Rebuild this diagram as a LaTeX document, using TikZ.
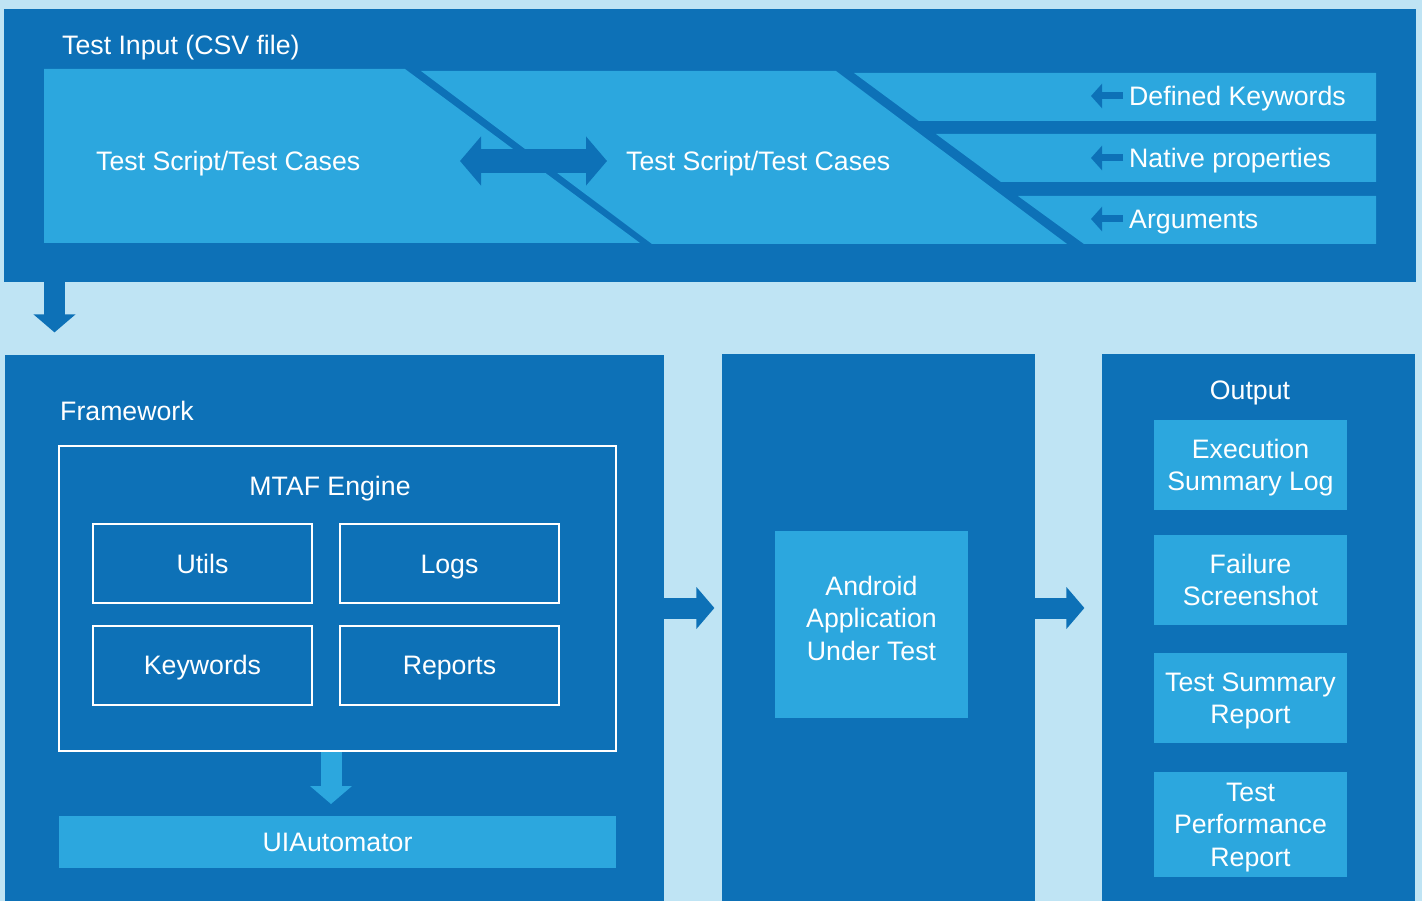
\documentclass[tikz,border=0pt]{standalone}
\usepackage{fontspec}
\setmainfont{Liberation Sans}
\usetikzlibrary{arrows.meta}
\definecolor{bgblue}{RGB}{191,228,244}
\definecolor{darkblue}{RGB}{13,113,183}
\definecolor{lightblue}{RGB}{44,167,222}
\tikzset{
	txt/.style={text=white, font=\fontsize{26.7}{32.5}\selectfont, inner sep=0pt},
	oneline/.style={txt, text height=19pt, text depth=0pt},
	panel/.style={fill=darkblue, inner sep=0pt, anchor=north west},
	tile/.style={txt, fill=lightblue, align=center, text depth=0pt},
	engbox/.style={oneline, draw=white, line width=2pt},
	bigarrow/.style={line width=21pt, -{Triangle[length=18pt,width=41pt]}},
	smallarrow/.style={darkblue, line width=7pt, -{Triangle[length=11pt,width=24pt]}}
}

\begin{document}
\begin{tikzpicture}[x=1pt, y=-1pt]
			%%%%% START %%%%%
			\useasboundingbox (0,0) rectangle (1422,901);
			\fill[bgblue] (0,0) rectangle (1422,901);
			
			\node[panel, minimum width=1412pt, minimum height=273pt] (input) at (4,9) {};
			\node[oneline, anchor=west] (inputlbl) at (62,45) {Test Input (CSV file)};
			
			\fill[lightblue] (44,69) -- (405,69) -- (640,243) -- (44,243) -- cycle;
			\fill[lightblue] (421,71) -- (836,71) -- (1067,244) -- (652,244) -- cycle;
			\fill[lightblue] (854,73) -- (1376,73) -- (1376,121) -- (919,121) -- cycle;
			\fill[lightblue] (936,134) -- (1376,134) -- (1376,182) -- (1001,182) -- cycle;
			\fill[lightblue] (1018,196) -- (1376,196) -- (1376,244) -- (1084,244) -- cycle;
			
			\node[oneline, anchor=west] (scriptA) at (96,161) {Test Script/Test Cases};
			\node[oneline, anchor=west] (scriptB) at (626,161) {Test Script/Test Cases};
			\coordinate (swapL) at (460,161);
			\coordinate (swapR) at (607,161);
			\draw[darkblue, line width=24pt, {Triangle[length=21pt,width=48pt]}-{Triangle[length=21pt,width=48pt]}] (swapL) -- (swapR);
			
			\node[oneline, anchor=west] (kw) at (1129,96) {Defined Keywords};
			\node[oneline, anchor=west] (native) at (1129,158) {Native properties};
			\node[oneline, anchor=west] (args) at (1129,219) {Arguments};
			\draw[smallarrow] ([xshift=-6pt]kw.west) -- ([xshift=-38pt]kw.west);
			\draw[smallarrow] ([xshift=-6pt]native.west) -- ([xshift=-38pt]native.west);
			\draw[smallarrow] ([xshift=-6pt]args.west) -- ([xshift=-38pt]args.west);
			
			\draw[bigarrow, darkblue] ([xshift=50.5pt]input.south west) -- ++(0,50);
			
			% framework
			\node[panel, minimum width=659pt, minimum height=546pt] (fw) at (5,355) {};
			\node[oneline, anchor=west] (fwlbl) at (60,411) {Framework};
			\node[engbox, minimum width=557pt, minimum height=305pt] (engine) at (337.5,598.5) {};
			\node[oneline] (englbl) at (330,486) {MTAF Engine};
			\node[engbox, minimum width=219pt, minimum height=79pt] (utils) at (202.5,563.5) {Utils};
			\node[engbox, minimum width=219pt, minimum height=79pt] (logs) at (449.5,563.5) {Logs};
			\node[engbox, minimum width=219pt, minimum height=79pt] (keywords) at (202.5,665) {Keywords};
			\node[engbox, minimum width=219pt, minimum height=79pt] (reports) at (449.5,665) {Reports};
			\node[tile, oneline, minimum width=557pt, minimum height=52pt] (uiauto) at (337.5,842) {UIAutomator};
			\draw[bigarrow, lightblue] ([xshift=-6.5pt]engine.south) -- ++(0,52);
			
			% application
			\node[panel, minimum width=313pt, minimum height=547pt] (autpanel) at (722,354) {};
			\node[tile, minimum width=193pt, minimum height=187pt, text depth=13pt] (aut) at (871.5,624.5) {Android\\Application\\Under Test};
			
			% output
			\node[panel, minimum width=313pt, minimum height=547pt] (outpanel) at (1102,354) {};
			\node[oneline] (outlbl) at (1250,390) {Output};
			\node[tile, minimum width=193pt, minimum height=90pt] (execlog) at (1250.5,465) {Execution\\Summary Log};
			\node[tile, minimum width=193pt, minimum height=90pt] (failshot) at (1250.5,580) {Failure\\Screenshot};
			\node[tile, minimum width=193pt, minimum height=90pt] (sumrep) at (1250.5,698) {Test Summary\\Report};
			\node[tile, minimum width=193pt, minimum height=105pt] (perfrep) at (1250.5,824.5) {Test\\Performance\\Report};
			
			\coordinate (flow) at (0,608);
			\draw[bigarrow, darkblue] (fw.east |- flow) -- ++(50,0);
			\draw[bigarrow, darkblue] (autpanel.east |- flow) -- ++(49,0);
			%%%%% END %%%%%
\end{tikzpicture}
\end{document}
